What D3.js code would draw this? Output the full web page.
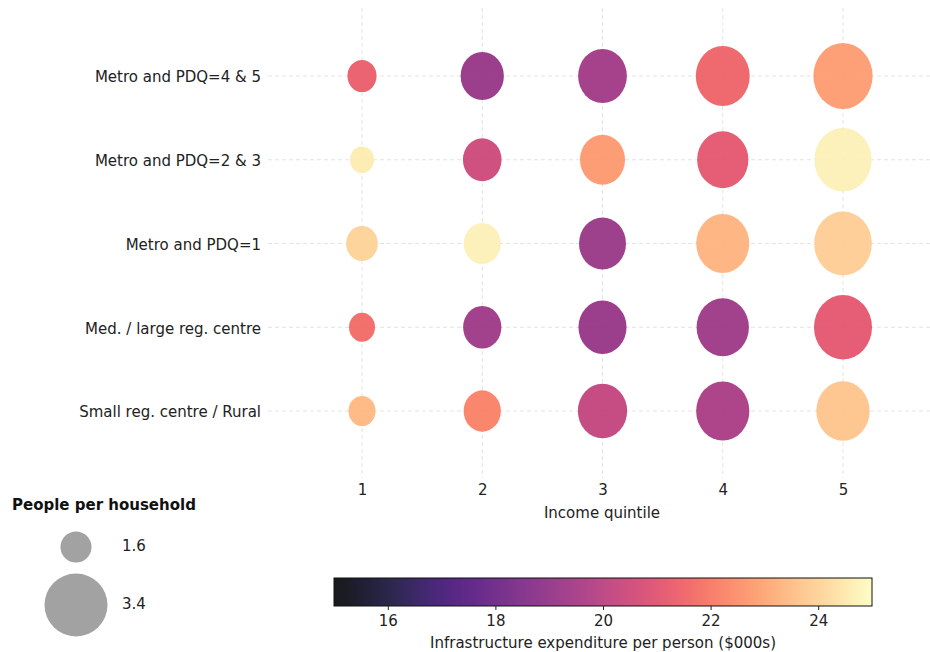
<!DOCTYPE html>
<html>
<head>
<meta charset="utf-8">
<script src="https://cdn.jsdelivr.net/npm/d3@7"></script>
<style>
  body { margin: 0; background: #fff; }
  svg { display: block; font-family: "DejaVu Sans", sans-serif; }
</style>
</head>
<body>
<svg id="chart" width="930" height="652"></svg>
<script>
// ---- Data ----
const categories = [
  "Metro and PDQ=4 & 5",
  "Metro and PDQ=2 & 3",
  "Metro and PDQ=1",
  "Med. / large reg. centre",
  "Small reg. centre / Rural"
];
const quintiles = [1, 2, 3, 4, 5];
// People per household (bubble size), rows follow categories, columns follow quintiles
const household = [
  [1.49, 2.29, 2.60, 2.89, 3.19],
  [1.21, 2.03, 2.39, 2.74, 3.08],
  [1.64, 1.94, 2.50, 2.84, 3.10],
  [1.32, 2.01, 2.56, 2.80, 3.12],
  [1.38, 1.95, 2.63, 2.85, 2.86]
];
// Infrastructure expenditure per person ($000s) (bubble colour)
const expenditure = [
  [21.3, 19.1, 19.4, 21.5, 22.8],
  [24.6, 20.5, 22.7, 21.1, 24.7],
  [24.0, 24.7, 19.2, 23.3, 23.9],
  [21.7, 19.3, 19.1, 19.3, 21.1],
  [23.4, 22.2, 20.2, 19.6, 23.7]
];
const legendSizes = [1.6, 3.4];
const colorTicks = [16, 18, 20, 22, 24];
const colorDomain = [15, 25];

const svg = d3.select("#chart");
const ALPHA = 0.9;
const FS = 15;

// ---- Scales ----
const x = d3.scalePoint().domain(quintiles).range([362, 843]);
const y = d3.scalePoint().domain(categories).range([76, 411]);
const r = d3.scaleLinear().domain(legendSizes).range([15.5, 31.5]);
const color = d3.scaleSequential(d3.interpolateMagma).domain(colorDomain);
const yStretch = 1.11;

// ---- Grid ----
const grid = svg.append("g");
grid.selectAll("line.v").data(quintiles).join("line")
  .attr("x1", d => x(d)).attr("x2", d => x(d))
  .attr("y1", 8).attr("y2", 478)
  .attr("stroke", "#dcdcdc").attr("stroke-width", 0.8).attr("stroke-dasharray", "4,3");
grid.selectAll("line.h").data(categories).join("line")
  .attr("x1", 268).attr("x2", 930)
  .attr("y1", d => y(d)).attr("y2", d => y(d))
  .attr("stroke", "#dcdcdc").attr("stroke-width", 0.8).attr("stroke-dasharray", "4,3");

// ---- Bubbles ----
const cells = [];
categories.forEach((c, i) => quintiles.forEach((q, j) => {
  cells.push({ c, q, size: household[i][j], val: expenditure[i][j] });
}));
svg.append("g").selectAll("ellipse").data(cells).join("ellipse")
  .attr("cx", d => x(d.q))
  .attr("cy", d => y(d.c))
  .attr("rx", d => r(d.size))
  .attr("ry", d => r(d.size) * yStretch)
  .attr("fill", d => color(d.val))
  .attr("fill-opacity", ALPHA);

// ---- Axes ----
const yAxis = d3.axisLeft(y).tickSize(0).tickPadding(0);
const gy = svg.append("g").attr("transform", "translate(261,1)").call(yAxis);
gy.select(".domain").remove();
gy.selectAll("text").attr("font-size", FS).attr("fill", "#222").attr("font-family", "DejaVu Sans");

const xAxis = d3.axisBottom(x).tickSize(0).tickPadding(0);
const gx = svg.append("g").attr("transform", "translate(0,484)").call(xAxis);
gx.select(".domain").remove();
gx.selectAll("text").attr("font-size", FS).attr("fill", "#222").attr("font-family", "DejaVu Sans");

svg.append("text").attr("x", 602).attr("y", 518).attr("text-anchor", "middle")
  .attr("font-size", FS).attr("fill", "#222").text("Income quintile");

// ---- Size legend ----
svg.append("text").attr("x", 12).attr("y", 510)
  .attr("font-size", FS).attr("font-weight", "bold").attr("fill", "#111")
  .text("People per household");
const legY = [547, 605];
const lg = svg.append("g");
lg.selectAll("circle").data(legendSizes).join("circle")
  .attr("cx", 76).attr("cy", (d, i) => legY[i]).attr("r", d => r(d))
  .attr("fill", "#a2a2a2");
lg.selectAll("text").data(legendSizes).join("text")
  .attr("x", 122).attr("y", (d, i) => legY[i] + 3.5)
  .attr("font-size", FS).attr("fill", "#222")
  .text(d => d3.format(".1f")(d));

// ---- Colour bar ----
const cbX0 = 334, cbX1 = 872, cbY = 578, cbH = 28;
const cbScale = d3.scaleLinear().domain(colorDomain).range([cbX0, cbX1]);
const defs = svg.append("defs");
const grad = defs.append("linearGradient").attr("id", "cbgrad")
  .attr("x1", "0%").attr("x2", "100%").attr("y1", "0%").attr("y2", "0%");
d3.range(0, 1.0001, 0.02).forEach(t => {
  grad.append("stop").attr("offset", (t * 100) + "%")
    .attr("stop-color", d3.interpolateMagma(t)).attr("stop-opacity", ALPHA);
});
svg.append("rect").attr("x", cbX0).attr("y", cbY).attr("width", cbX1 - cbX0).attr("height", cbH)
  .attr("fill", "url(#cbgrad)").attr("stroke", "#111").attr("stroke-width", 1);
const cbAxis = d3.axisBottom(cbScale).tickValues(colorTicks).tickSize(4).tickPadding(5);
const gcb = svg.append("g").attr("transform", `translate(0,${cbY + cbH})`).call(cbAxis);
gcb.select(".domain").remove();
gcb.selectAll("text").attr("font-size", FS).attr("fill", "#222").attr("font-family", "DejaVu Sans");
gcb.selectAll("line").attr("stroke", "#222");
svg.append("text").attr("x", (cbX0 + cbX1) / 2).attr("y", 647.5).attr("text-anchor", "middle")
  .attr("font-size", FS).attr("fill", "#222").text("Infrastructure expenditure per person ($000s)");
</script>
</body>
</html>
